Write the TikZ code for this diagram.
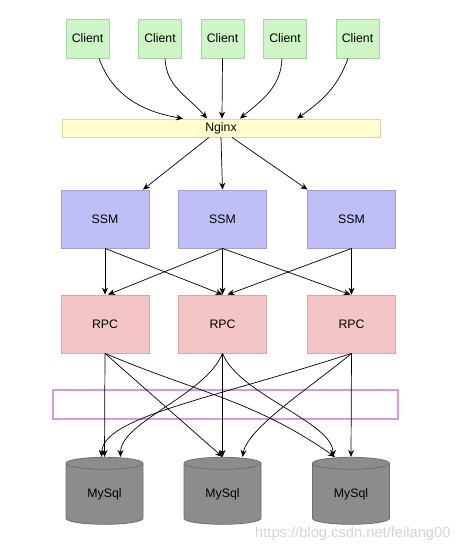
\documentclass[tikz,border=0pt]{standalone}
\usepackage{fontspec}
\setmainfont{Liberation Sans}
\usetikzlibrary{arrows.meta,shapes.geometric}
\definecolor{clientfill}{HTML}{CDF5C6}
\definecolor{clientline}{HTML}{A9D3A2}
\definecolor{nginxfill}{HTML}{FFFFCC}
\definecolor{nginxline}{HTML}{D9D9A6}
\definecolor{ssmfill}{HTML}{BDBFF6}
\definecolor{ssmline}{HTML}{A0A2D6}
\definecolor{rpcfill}{HTML}{F3C5C5}
\definecolor{rpcline}{HTML}{D6A8A8}
\definecolor{dbfill}{HTML}{8C8C8C}
\definecolor{dbline}{HTML}{6E6E6E}
\definecolor{frameline}{HTML}{D69CDA}
\definecolor{wmark}{HTML}{D4D4D4}
\tikzset{
  lbl/.style={font=\fontsize{12.3}{14}\selectfont, inner sep=0pt},
  clientbox/.style={lbl, draw=clientline, fill=clientfill, line width=0.8pt, minimum width=43, minimum height=39},
  nginxbox/.style={lbl, draw=nginxline, fill=nginxfill, line width=0.8pt, minimum width=318, minimum height=18},
  ssmbox/.style={lbl, draw=ssmline, fill=ssmfill, line width=0.8pt, minimum width=88, minimum height=58},
  rpcbox/.style={lbl, draw=rpcline, fill=rpcfill, line width=0.8pt, minimum width=88, minimum height=58},
  dbbox/.style={lbl, cylinder, shape border rotate=90, aspect=0.35, draw=dbline, fill=dbfill, line width=0.8pt, minimum width=77, minimum height=67},
  conn/.style={draw=black, line width=0.7pt, -{Stealth[length=7pt,width=6pt]}},
}
\begin{document}
\begin{tikzpicture}[x=1pt,y=1pt]
\useasboundingbox (0,0) rectangle (461,-551);
% clients
\node[clientbox] (c1) at (87.5,-38.5) {Client};
\node[clientbox] (c2) at (160,-38.5) {Client};
\node[clientbox] (c3) at (222.5,-38.5) {Client};
\node[clientbox] (c4) at (285,-38.5) {Client};
\node[clientbox] (c5) at (357.5,-38.5) {Client};
% nginx
\node[nginxbox] (ng) at (221,-128) {Nginx};
% ssm
\node[ssmbox] (s1) at (105,-219) {SSM};
\node[ssmbox] (s2) at (222.5,-219) {SSM};
\node[ssmbox] (s3) at (351.5,-219) {SSM};
% rpc
\node[rpcbox] (r1) at (105,-324) {RPC};
\node[rpcbox] (r2) at (222.5,-324) {RPC};
\node[rpcbox] (r3) at (351.5,-324) {RPC};
% frame
\node[draw=frameline, line width=1.5pt, minimum width=345, minimum height=29, inner sep=0pt] (fr) at (225.5,-404.5) {};
% databases
\node[dbbox] (d1) at (104.5,-494) {\raisebox{-10pt}{MySql}};
\node[dbbox] (d2) at (222.5,-494) {\raisebox{-10pt}{MySql}};
\node[dbbox] (d3) at (351,-494) {\raisebox{-10pt}{MySql}};
% watermark
\node[anchor=west, text=wmark, font=\fontsize{14.7}{16}\selectfont, inner sep=0pt] (wm) at (255,-534) {https://blog.csdn.net/feilang00};

% clients -> nginx
\draw[conn] ([xshift=11.5]c1.south) to[out=-70, in=170] ([xshift=-38]ng.north);
\draw[conn] ([xshift=5]c2.south) to[out=-88, in=130] ([xshift=-14]ng.north);
\draw[conn] (c3.south) -- ([xshift=1]ng.north);
\draw[conn] ([xshift=-3]c4.south) to[out=-92, in=40] ([xshift=19]ng.north);
\draw[conn] ([xshift=-9.5]c5.south) to[out=-110, in=35] ([xshift=76]ng.north);
% nginx -> ssm
\draw[conn] ([xshift=-12]ng.south) -- ([xshift=38]s1.north);
\draw[conn] (ng.south) -- (s2.north);
\draw[conn] ([xshift=11]ng.south) -- ([xshift=-44]s3.north);
% ssm -> rpc
\draw[conn] (s1.south) -- (r1.north);
\draw[conn] (s1.south) -- (r2.north);
\draw[conn] (s2.south) -- ([xshift=3]r1.north);
\draw[conn] (s2.south) -- (r2.north);
\draw[conn] (s2.south) -- ([xshift=-1]r3.north);
\draw[conn] (s3.south) -- ([xshift=5]r2.north);
\draw[conn] (s3.south) -- (r3.north);
% rpc -> db
\draw[conn] (r1.south) -- (d1.north);
\draw[conn] (r1.south) -- (d2.north);
\draw[conn] (r1.south) to[out=-23, in=145] ([xshift=-16]d3.north);
\draw[conn] (r2.south) to[out=-112, in=90, out distance=45, in distance=35] ([xshift=16]d1.north);
\draw[conn] (r2.south) -- (d2.north);
\draw[conn] (r2.south) to[out=-68, in=90, out distance=45, in distance=35] ([xshift=-18]d3.north);
\draw[conn] (r3.south) to[out=-162, in=88, out distance=150, in distance=40] ([xshift=-3]d1.north);
\draw[conn] (r3.south) to[out=-140, in=80, out distance=50, in distance=30] ([xshift=20]d2.north);
\draw[conn] (r3.south) -- (d3.north);
\end{tikzpicture}
\end{document}
